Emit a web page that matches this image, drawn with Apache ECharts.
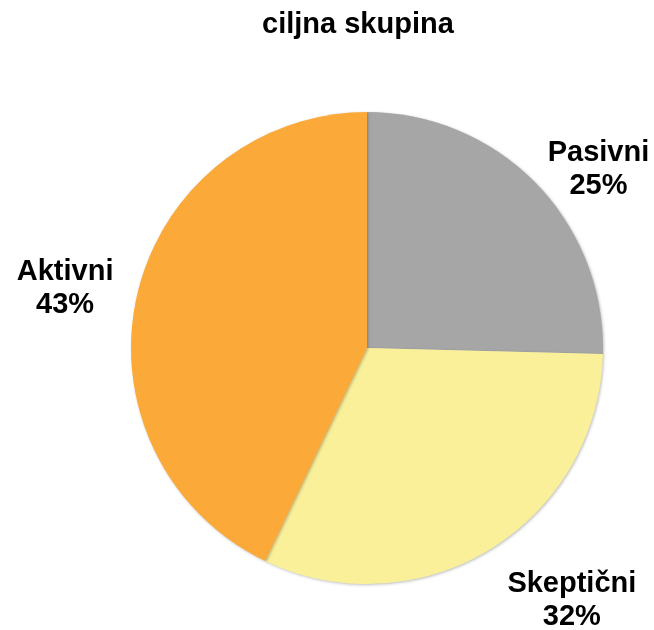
<!DOCTYPE html>
<html>
<head>
<meta charset="utf-8">
<script src="https://cdn.jsdelivr.net/npm/echarts@6/dist/echarts.min.js"></script>
<style>
  html, body { margin: 0; padding: 0; background: #fff; }
  #chart { width: 654px; height: 630px; }
</style>
</head>
<body>
<div id="chart"></div>
<script>
// ciljna skupina - deleži
const categories = ["Pasivni", "Skeptični", "Aktivni"];
const values = [25.4, 31.7, 42.9];
const colors = ["#A6A6A6", "#FAF09A", "#FBAA3A"];
// dolžina (nevidne) črte do napisa za vsak kos + zamik
const labelDist = [22, 48, 24];
const labelShift = [[-9, 2], [-13, 10], [5, -2]];

const myChart = echarts.init(document.getElementById("chart"));

const option = {
  backgroundColor: "#fff",
  animation: false,
  title: {
    text: "ciljna skupina",
    left: 257,
    top: 5,
    textStyle: {
      fontFamily: "Liberation Sans",
      fontWeight: "bold",
      fontSize: 29,
      color: "#000",
    },
  },
  series: [
    {
      type: "pie",
      center: [367, 348],
      radius: 236,
      startAngle: 90,
      clockwise: true,
      avoidLabelOverlap: false,
      itemStyle: {
        shadowColor: "rgba(0,0,0,0.25)",
        shadowBlur: 3,
        shadowOffsetX: 1,
        shadowOffsetY: 1,
      },
      label: {
        show: true,
        position: "outside",
        formatter: (p) => "{t|" + p.name + "\n" + Math.round(p.percent) + "%}",
        rich: {
          t: {
            fontFamily: "Liberation Sans",
            fontWeight: "bold",
            fontSize: 29,
            lineHeight: 33,
            color: "#000",
            align: "center",
          },
        },
      },
      labelLayout: (params) => ({
        dx: labelShift[params.dataIndex][0],
        dy: labelShift[params.dataIndex][1],
      }),
      labelLine: { show: false, length2: 0 },
      emphasis: { disabled: true },
      data: categories.map((name, i) => ({
        name: name,
        value: values[i],
        itemStyle: { color: colors[i] },
        labelLine: { show: false, length: labelDist[i], length2: 0 },
      })),
    },
  ],
};

myChart.setOption(option);
</script>
</body>
</html>
